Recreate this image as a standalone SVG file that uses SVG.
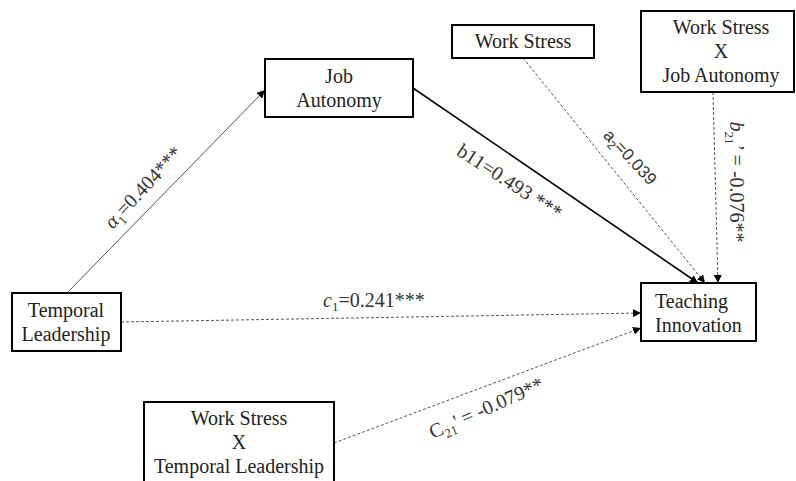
<svg xmlns="http://www.w3.org/2000/svg" width="796" height="481" viewBox="0 0 796 481">
<defs>
<style>
.box{fill:#fff;stroke:#000;stroke-width:2}
.t{font-family:"Liberation Serif","Times New Roman",serif;font-size:20px;fill:#222}
.lbl{font-family:"Liberation Serif","Times New Roman",serif;font-size:20px;fill:#333}
.sans{font-family:"Liberation Sans",Arial,sans-serif;font-size:17px;fill:#333}
.dash{fill:none;stroke:#555;stroke-width:1;stroke-dasharray:3 2}
.thin{fill:none;stroke:#555;stroke-width:1}
.solid{fill:none;stroke:#000;stroke-width:1.6}
</style>
<marker id="arr" viewBox="0 0 10 10" refX="10" refY="5" markerWidth="8" markerHeight="8" markerUnits="userSpaceOnUse" orient="auto">
<path d="M0,0 L10,5 L0,10 z" fill="#000"/>
</marker>
</defs>
<rect width="796" height="481" fill="#fff"/>

<g id="connectors">
<line class="thin" x1="67" y1="293" x2="265" y2="90" marker-end="url(#arr)"/>
<line class="solid" x1="413" y1="88" x2="698" y2="283" marker-end="url(#arr)"/>
<line class="dash" x1="523" y1="58" x2="705" y2="283" marker-end="url(#arr)"/>
<line class="dash" x1="713" y1="92" x2="718" y2="283" marker-end="url(#arr)"/>
<line class="dash" x1="121" y1="322" x2="641" y2="313" marker-end="url(#arr)"/>
<line class="dash" x1="334" y1="443" x2="641" y2="328" marker-end="url(#arr)"/>

<text class="lbl" text-anchor="middle" transform="translate(148,192) rotate(-47)"><tspan font-style="italic">α</tspan><tspan font-size="13" dy="5">1</tspan><tspan dy="-5">=0.404***</tspan></text>
<text class="lbl" text-anchor="middle" transform="translate(506,187) rotate(33)">b11=0.493 ***</text>
<text class="sans" text-anchor="middle" transform="translate(626,161) rotate(47)">a<tspan font-size="12" dy="4">2</tspan><tspan dy="-4">=0.039</tspan></text>
<text class="lbl" text-anchor="middle" transform="translate(730,182) rotate(90)"><tspan font-style="italic">b</tspan><tspan font-size="13" dy="5">21</tspan><tspan dy="-5">’ = -0.076**</tspan></text>
<text class="lbl" x="323" y="307"><tspan font-style="italic">c</tspan><tspan font-size="13" dy="4">1</tspan><tspan dy="-4">=0.241***</tspan></text>
<text class="lbl" text-anchor="middle" transform="translate(489,414) rotate(-24)">C<tspan font-size="13" dy="5">21</tspan><tspan dy="-5">' = -0.079**</tspan></text>
</g>

<g id="job-autonomy">
<rect class="box" x="265" y="59" width="148" height="58"/>
<text class="t" text-anchor="middle" x="339" y="83">Job</text>
<text class="t" text-anchor="middle" x="339" y="107">Autonomy</text>
</g>

<g id="work-stress">
<rect class="box" x="452" y="25" width="142" height="33"/>
<text class="t" text-anchor="middle" x="523" y="48">Work Stress</text>
</g>

<g id="ws-x-ja">
<rect class="box" x="641" y="11" width="153" height="81"/>
<text class="t" text-anchor="middle" x="721" y="34">Work Stress</text>
<text class="t" text-anchor="middle" x="721" y="58">X</text>
<text class="t" text-anchor="middle" x="721" y="82">Job Autonomy</text>
</g>

<g id="temporal-leadership">
<rect class="box" x="12" y="293" width="109" height="58"/>
<text class="t" text-anchor="middle" x="66" y="317">Temporal</text>
<text class="t" text-anchor="middle" x="66" y="341">Leadership</text>
</g>

<g id="ws-x-tl">
<rect class="box" x="144" y="402" width="190" height="100"/>
<text class="t" text-anchor="middle" x="239" y="425">Work Stress</text>
<text class="t" text-anchor="middle" x="239" y="449">X</text>
<text class="t" text-anchor="middle" x="239" y="473">Temporal Leadership</text>
</g>

<g id="teaching-innovation">
<rect class="box" x="641" y="283" width="115" height="58"/>
<text class="t" x="655" y="308">Teaching</text>
<text class="t" x="655" y="332">Innovation</text>
</g>
</svg>
